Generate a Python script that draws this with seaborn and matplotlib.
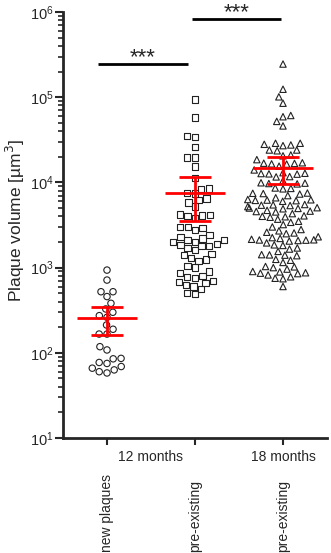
import numpy as np
import pandas as pd
import seaborn as sns
import matplotlib.pyplot as plt
from matplotlib import transforms

# values (um^3)
new_plaques = [935, 714, 521, 521, 457, 381, 299, 327, 261, 273, 212, 189, 166, 166,
               108, 118, 85, 77, 75, 86, 63, 69, 58, 60, 66]
pre_12 = [94000, 58000, 35000, 34000, 26000, 19700, 19500, 15300, 11200, 8500, 8400,
          7500, 7400, 6500, 6200, 5800, 5200, 4200, 4150, 4100, 4050, 3800, 3000, 3000,
          2900, 2750, 2400, 2300, 2200, 2100, 2100, 2000, 2000, 1900, 1850, 1800, 1800,
          1700, 1600, 1450, 1400, 1300, 1250, 1200, 1050, 1000, 900, 860, 800, 780, 760,
          700, 680, 660, 620, 600, 560, 500, 490]
pre_18 = [245000, 124000, 101000, 85000, 61000, 59000, 52000, 46000,
          28800, 28800, 28000, 27500, 27000, 24000, 24000, 23500, 21000, 20500, 18500,
          17000, 16800, 16500, 16700, 16400, 15500, 14000,
          13000, 12800, 12700, 12600, 12500, 11700, 11600, 10500,
          9800, 9700, 9900, 9600, 8500, 8600, 8400, 7500, 7400, 7450, 7300, 7000, 6600,
          6300, 6200, 6150, 6250, 6100, 6000, 5500, 5400, 5450, 5350, 5200,
          5000, 4950, 4900, 5050, 4700, 4600, 4500, 4550, 4300,
          4000, 3950, 3900, 4050, 3700, 3500, 3400, 3200, 3000, 2800, 2700, 2600,
          2550, 2500, 2300, 2250, 2150, 2100, 2120, 2080, 2110, 2050, 2200,
          1950, 1850, 1820, 1700, 1650, 1550, 1420, 1400, 1380, 1410, 1250, 1220, 1150,
          1030, 1020, 1000, 960, 900, 890, 860, 850, 870, 820, 780, 750, 740, 600]

groups = ["new", "pre12", "pre18"]
markers = ["o", "s", "^"]
month_labels = ["12 months", "18 months"]
month_pos = [0.5, 2]
group_labels = ["new plaques", "pre-existing", "pre-existing"]

means = [255, 7600, 14600]
ci = [92, 4120, 5000]

# significance bars: (x start, x end, y)
sig_bars = [(-0.10, 0.92, 2.45e5), (0.97, 1.98, 8.3e5)]

df = pd.DataFrame({
    "group": ["new"] * len(new_plaques) + ["pre12"] * len(pre_12) + ["pre18"] * len(pre_18),
    "volume": new_plaques + pre_12 + pre_18,
})

sns.set_style("ticks")
plt.rcParams["font.family"] = ["Liberation Sans", "DejaVu Sans"]

fig = plt.figure(figsize=(3.31, 5.53), dpi=100)
ax = fig.add_axes([63 / 331, 1 - 438 / 553, 264 / 331, 426 / 553])
ax.set_yscale("log")
ax.set_ylim(10, 1e6)

for g, m in zip(groups, markers):
    sns.swarmplot(data=df[df.group == g], x="group", y="volume", order=groups,
                  marker=m, size=4.6, color="black", linewidth=0.8, ax=ax)
for coll in ax.collections:
    coll.set_facecolor("none")
    coll.set_edgecolor("#222222")

ax.set_xlim(-0.5, 2.5)

# mean and 95% CI
x = np.arange(len(groups))
m_ = np.array(means)
c_ = np.array(ci)
ax.hlines(m_, x - 0.34, x + 0.34, color="red", lw=2, zorder=5)
ax.hlines(m_ + c_, x - 0.18, x + 0.18, color="red", lw=2, zorder=5)
ax.hlines(m_ - c_, x - 0.18, x + 0.18, color="red", lw=2, zorder=5)
ax.vlines(x, m_ - c_, m_ + c_, color="red", lw=2, zorder=5)

for x0, x1, y in sig_bars:
    ax.plot([x0, x1], [y, y], color="black", lw=2, clip_on=False, solid_capstyle="butt")
    ax.text((x0 + x1) / 2, y * 1.01, "***", ha="center", va="baseline", fontsize=16)

sns.despine(ax=ax)
for s in ["left", "bottom"]:
    ax.spines[s].set_linewidth(2)

ax.set_xticks(x)
ax.set_xticklabels([])
ax.tick_params(axis="x", length=5, width=1.5)
ax.tick_params(axis="y", which="major", length=6, width=1.5, labelsize=10.5, pad=1)
ax.tick_params(axis="y", which="minor", length=3.5, width=1.2)
ax.set_xlabel("")
ax.set_ylabel("Plaque volume [µm$^3$]", fontsize=12.5)
ax.yaxis.set_label_coords(-0.135, 0.51)

trans = transforms.blended_transform_factory(ax.transData, ax.transAxes)
for p, lab in zip(month_pos, month_labels):
    ax.text(p, -0.045, lab, transform=trans, ha="center", va="center", fontsize=10)
for p, lab in zip(x, group_labels):
    ax.text(p, -0.267, lab, transform=trans, ha="center", va="bottom", rotation=90, fontsize=10)

fig.savefig("out.png", dpi=100)
